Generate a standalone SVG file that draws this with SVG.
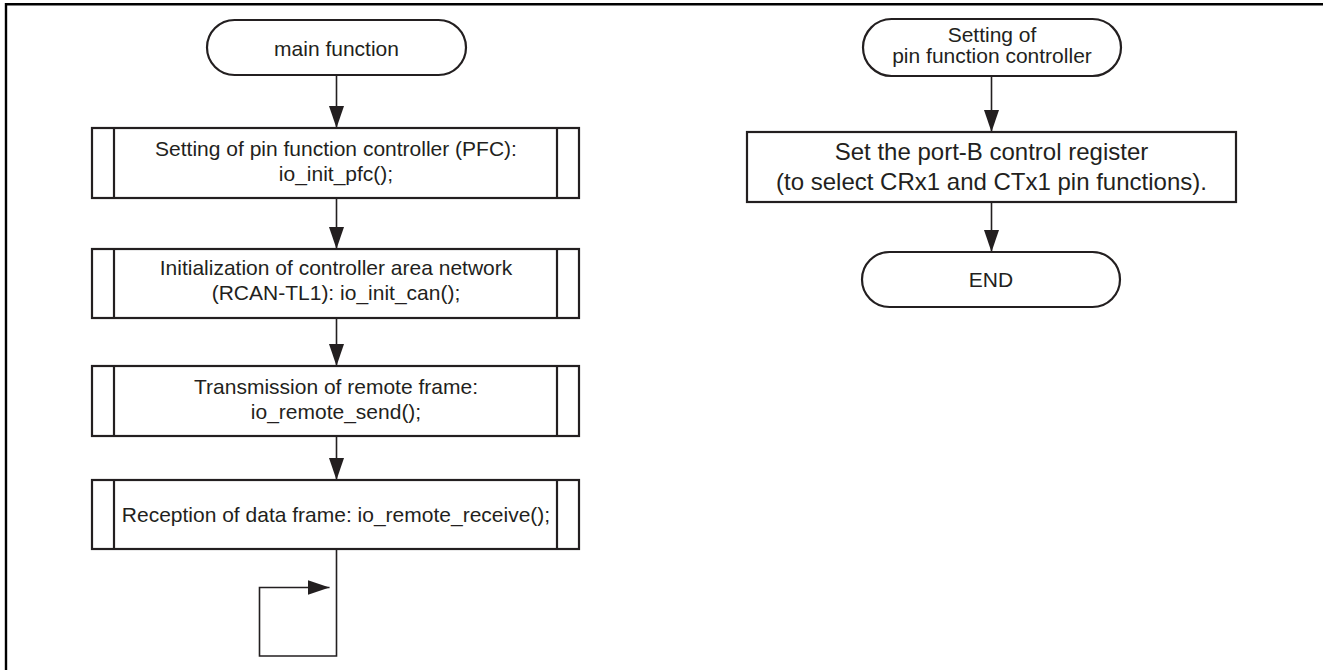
<svg xmlns="http://www.w3.org/2000/svg" width="1323" height="670" viewBox="0 0 1323 670">
  <style>
    .shape { fill: #ffffff; stroke: #231f20; stroke-width: 2.2; }
    .div { stroke: #231f20; stroke-width: 2.2; fill: none; }
    .conn { stroke: #231f20; stroke-width: 1.6; fill: none; }
    .t { font-family: "Liberation Sans", Arial, sans-serif; font-size: 21px; fill: #231f20; text-anchor: middle; }
    .tb { font-family: "Liberation Sans", Arial, sans-serif; font-size: 24px; fill: #231f20; text-anchor: middle; }
    .frame { stroke: #000000; stroke-width: 2.4; fill: none; }
  </style>
  <defs>
    <marker id="arrow" viewBox="0 0 22 15" refX="22" refY="7.5" markerWidth="22" markerHeight="15" markerUnits="userSpaceOnUse" orient="auto">
      <path d="M0,0 L22,7.5 L0,15 z" fill="#231f20"/>
    </marker>
  </defs>
  <rect width="1323" height="670" fill="#ffffff"/>
  <g id="frame">
    <path class="frame" d="M6,670 L6,4.3 L1323,4.3"/>
  </g>

  <g id="connectors">
    <path class="conn" d="M336.5,75 L336.5,128" marker-end="url(#arrow)"/>
    <path class="conn" d="M336.5,198 L336.5,249" marker-end="url(#arrow)"/>
    <path class="conn" d="M336.5,318 L336.5,366" marker-end="url(#arrow)"/>
    <path class="conn" d="M336.5,436 L336.5,480" marker-end="url(#arrow)"/>
    <path class="conn" d="M336.5,549 L336.5,656 L259.5,656 L259.5,587.5 L329.5,587.5" marker-end="url(#arrow)"/>
    <path class="conn" d="M991.5,76 L991.5,132" marker-end="url(#arrow)"/>
    <path class="conn" d="M991.5,202 L991.5,252" marker-end="url(#arrow)"/>
  </g>

  <g id="main-function">
    <rect class="shape" x="207" y="20" width="259" height="55" rx="27.5" ry="27.5"/>
    <text class="t" x="336.5" y="55.5">main function</text>
  </g>

  <g id="pfc">
    <rect class="shape" x="92" y="128" width="487" height="70"/>
    <line class="div" x1="114" y1="128" x2="114" y2="198"/>
    <line class="div" x1="557" y1="128" x2="557" y2="198"/>
    <text class="t" x="336" y="156">Setting of pin function controller (PFC):</text>
    <text class="t" x="336" y="181">io_init_pfc();</text>
  </g>

  <g id="can-init">
    <rect class="shape" x="92" y="249" width="487" height="69"/>
    <line class="div" x1="114" y1="249" x2="114" y2="318"/>
    <line class="div" x1="557" y1="249" x2="557" y2="318"/>
    <text class="t" x="336" y="275">Initialization of controller area network</text>
    <text class="t" x="336" y="300">(RCAN-TL1): io_init_can();</text>
  </g>

  <g id="remote-send">
    <rect class="shape" x="92" y="366" width="487" height="70"/>
    <line class="div" x1="114" y1="366" x2="114" y2="436"/>
    <line class="div" x1="557" y1="366" x2="557" y2="436"/>
    <text class="t" x="336" y="394">Transmission of remote frame:</text>
    <text class="t" x="336" y="419">io_remote_send();</text>
  </g>

  <g id="remote-receive">
    <rect class="shape" x="92" y="480" width="487" height="69"/>
    <line class="div" x1="114" y1="480" x2="114" y2="549"/>
    <line class="div" x1="557" y1="480" x2="557" y2="549"/>
    <text class="t" x="336" y="522">Reception of data frame: io_remote_receive();</text>
  </g>

  <g id="pfc-start">
    <rect class="shape" x="863" y="19" width="258" height="57" rx="28.5" ry="28.5"/>
    <text class="t" x="992" y="42">Setting of</text>
    <text class="t" x="992" y="63">pin function controller</text>
  </g>

  <g id="port-b">
    <rect class="shape" x="747" y="132" width="489" height="70"/>
    <text class="tb" x="991.5" y="160">Set the port-B control register</text>
    <text class="tb" x="991.5" y="190">(to select CRx1 and CTx1 pin functions).</text>
  </g>

  <g id="end">
    <rect class="shape" x="862" y="252" width="258" height="55" rx="27.5" ry="27.5"/>
    <text class="t" x="991" y="287">END</text>
  </g>
</svg>
